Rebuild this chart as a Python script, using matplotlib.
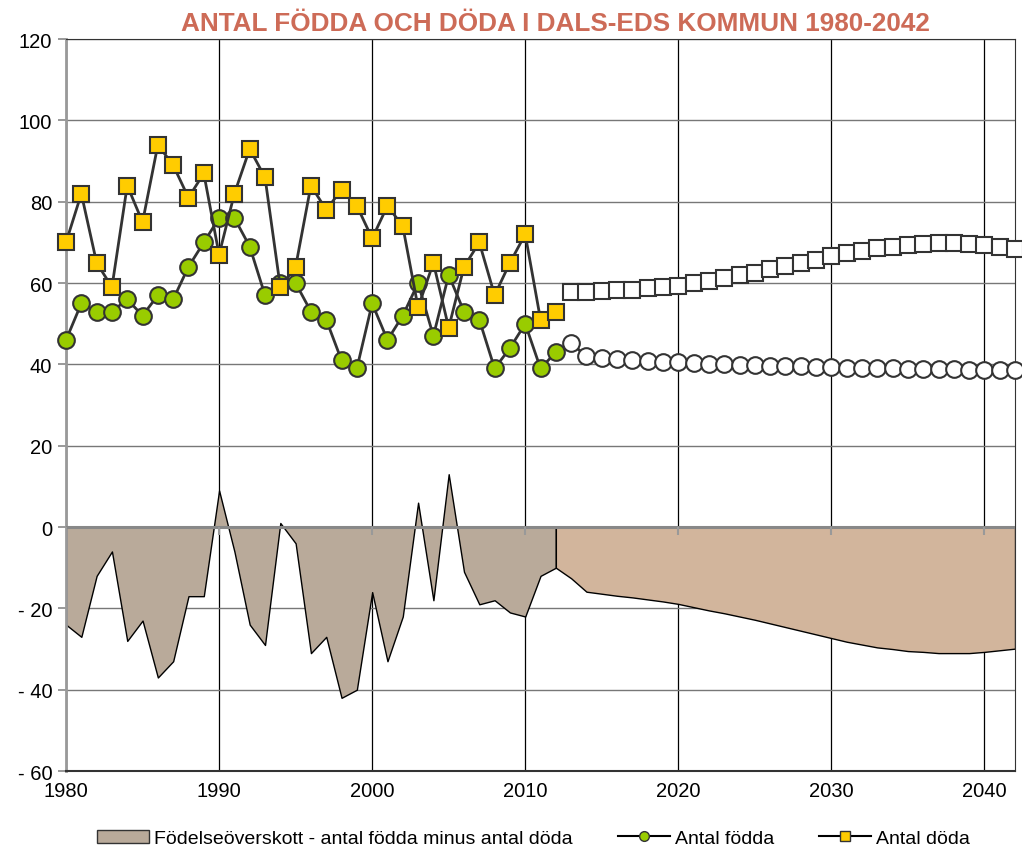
import matplotlib
matplotlib.use("Agg")
import matplotlib.pyplot as plt
from matplotlib.patches import Patch
from matplotlib.lines import Line2D
from matplotlib.markers import TICKDOWN
import numpy as np

# observed years
years_hist = list(range(1980, 2013))
born_hist = [46, 55, 53, 53, 56, 52, 57, 56, 64, 70,
             76, 76, 69, 57, 60, 60, 53, 51, 41, 39,
             55, 46, 52, 60, 47, 62, 53, 51, 39, 44,
             50, 39, 43]
dead_hist = [70, 82, 65, 59, 84, 75, 94, 89, 81, 87,
             67, 82, 93, 86, 59, 64, 84, 78, 83, 79,
             71, 79, 74, 54, 65, 49, 64, 70, 57, 65,
             72, 51, 53]

# projection
years_proj = list(range(2013, 2043))
born_proj = [45.2, 42.0, 41.6, 41.3, 41.1, 40.9, 40.7, 40.5, 40.3, 40.1,
             40.0, 39.9, 39.8, 39.7, 39.6, 39.5, 39.4, 39.3, 39.2, 39.1,
             39.0, 39.0, 38.9, 38.9, 38.8, 38.8, 38.7, 38.7, 38.7, 38.6]
dead_proj = [57.8, 57.9, 58.0, 58.2, 58.4, 58.7, 59.0, 59.4, 60.0, 60.6,
             61.2, 61.9, 62.6, 63.4, 64.2, 65.0, 65.8, 66.6, 67.4, 68.0,
             68.6, 69.0, 69.4, 69.6, 69.8, 69.8, 69.7, 69.4, 69.0, 68.5]

x_ticks = [1980, 1990, 2000, 2010, 2020, 2030, 2040]
y_ticks = [-60, -40, -20, 0, 20, 40, 60, 80, 100, 120]
y_labels = ["- 60", "- 40", "- 20", "0", "20", "40", "60", "80", "100", "120"]

title = "ANTAL FÖDDA OCH DÖDA I DALS-EDS KOMMUN 1980-2042"
lbl_area = "Födelseöverskott - antal födda minus antal döda"
lbl_born = "Antal födda"
lbl_dead = "Antal döda"

c_area = "#B9AA9A"
c_area_proj = "#D2B59C"
c_green = "#99CC00"
c_yellow = "#FFCC00"
c_line = "#333333"

plt.rcParams['font.family'] = ['Liberation Sans', 'DejaVu Sans']

surplus_hist = np.array(born_hist) - np.array(dead_hist)
surplus_proj = np.array(born_proj) - np.array(dead_proj)
# projection area starts where observed ends
yp_area = [years_hist[-1]] + years_proj
sp_area = np.concatenate([[surplus_hist[-1]], surplus_proj])

fig = plt.figure(figsize=(10.22, 8.54), dpi=100)
ax = fig.add_axes([0.0646, 0.096, 0.9286, 0.857])

ax.set_axisbelow(True)
ax.fill_between(years_hist, surplus_hist, 0, facecolor=c_area, edgecolor="black", lw=1, zorder=2)
ax.fill_between(yp_area, sp_area, 0, facecolor=c_area_proj, edgecolor="black", lw=1, zorder=2)
ax.axhline(0, color="#888888", lw=2.2, zorder=3)
# little tick marks hanging off the zero line
ax.plot(x_ticks, [0] * len(x_ticks), ls="none", marker=TICKDOWN, ms=6, mew=1.5,
        color="#999999", zorder=3)

ax.plot(years_hist, born_hist, color=c_line, lw=2, marker="o", ms=12,
        mfc=c_green, mec=c_line, mew=1.5, zorder=5, clip_on=False)
ax.plot(years_hist, dead_hist, color=c_line, lw=2, marker="s", ms=12,
        mfc=c_yellow, mec=c_line, mew=1.5, zorder=6, clip_on=False)
ax.plot(years_proj, born_proj, color=c_line, lw=2, marker="o", ms=12,
        mfc="white", mec=c_line, mew=1.5, zorder=5, clip_on=False)
ax.plot(years_proj, dead_proj, color=c_line, lw=2, marker="s", ms=12,
        mfc="white", mec=c_line, mew=1.5, zorder=6, clip_on=False)

ax.set_xlim(1980, 2042)
ax.set_ylim(-60, 120)
ax.set_xticks(x_ticks)
ax.set_yticks(y_ticks)
ax.set_yticklabels(y_labels)
ax.tick_params(axis="x", length=0, labelsize=14.5, pad=7)
ax.tick_params(axis="y", length=6, color="#888888", width=1.2, labelsize=14.5, pad=4)
ax.yaxis.grid(True, color="#777777", lw=1)
ax.xaxis.grid(True, color="black", lw=0.9)
ax.spines["left"].set_color("#999999")
ax.spines["left"].set_linewidth(2)
ax.spines["bottom"].set_color("#333333")
ax.spines["bottom"].set_linewidth(1.5)
ax.spines["top"].set_color("#333333")
ax.spines["right"].set_color("#333333")

fig.text(0.543, 0.972, title, ha="center", va="center", fontsize=18.8, fontweight="bold",
         color="#CD6B57")

handles = [
    Patch(facecolor=c_area, edgecolor=c_line, lw=1),
    Line2D([], [], color="black", lw=1.5, marker="o", ms=7, mfc=c_green, mec=c_line),
    Line2D([], [], color="black", lw=1.5, marker="s", ms=7, mfc=c_yellow, mec=c_line),
]
fig.legend(handles, [lbl_area, lbl_born, lbl_dead], loc="center", bbox_to_anchor=(0.522, 0.017),
           ncol=3, frameon=False, fontsize=14, handlelength=2.7, handletextpad=0.25,
           columnspacing=2.3)

fig.savefig("out.png", dpi=100)
